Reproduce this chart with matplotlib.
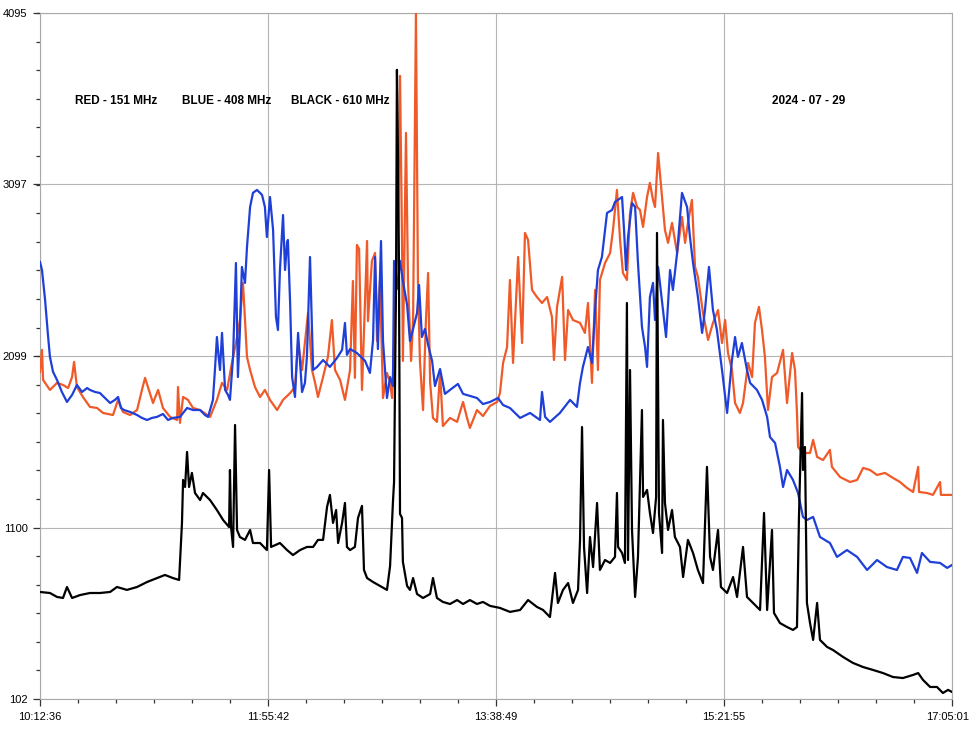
import numpy as np
import matplotlib
matplotlib.use('Agg')
import matplotlib.pyplot as plt
import matplotlib.transforms as mtransforms
from matplotlib.ticker import AutoMinorLocator

# minutes after 10:12:36, receiver counts
red = [(0,2006),(0.9,2134),(1.4,1959),(4.5,1901),(7.7,1942),(10.4,1930),(12.7,1912),(14.5,1976),(15.4,2064),
       (16.7,1918),(19.4,1860),(22.6,1802),(25.8,1796),(28.5,1767),(33.0,1755),(35.3,1843),(37.5,1773),(40.7,1755),
       (43.9,1784),(46.1,1901),(47.5,1971),(49.7,1883),(51.1,1825),(53.4,1901),(55.6,1796),(58.8,1744),(62.0,1726),
       (62.4,1918),(63.3,1709),(64.7,1860),(66.9,1843),(69.2,1796),(72.4,1784),(76.9,1744),(80.0,1843),(82.3,1942),
       (84.6,1901),(86.8,2058),(89.1,2209),(90.4,2308),(91.8,2524),(92.7,2308),(93.6,2093),(95.0,2017),(97.2,1918),
       (99.5,1860),(101.7,1901),(104.0,1843),(107.2,1784),(109.9,1843),(113.1,1883),(115.3,1918),(116.7,2174),
       (118.5,2017),(119.8,2174),(121.2,2349),(123.0,2017),(124.4,1942),(125.7,1860),(128.0,1976),(130.2,2093),
       (132.0,2308),(133.4,2017),(135.7,1959),(137.9,1843),(140.2,2017),(141.5,2535),(142.4,1971),(143.3,2745),
       (144.3,2722),(145.6,1901),(147.0,2419),(147.9,2768),(148.3,2302),(150.1,2652),(151.5,2698),(152.4,2186),
       (153.7,2535),(154.7,2070),(155.1,1854),(156.9,2000),(158.3,1947),(159.2,1854),(160.5,2302),(161.9,2861),
       (162.8,3729),(163.7,2768),(164.1,2070),(165.5,3397),(166.4,2535),(167.8,2070),(168.7,2302),(170.0,4095),
       (170.9,2535),(171.8,2070),(173.2,1784),(174.5,2302),(175.5,2582),(176.4,1947),(177.7,1738),(179.5,1715),
       (180.9,2000),(182.2,1691),(185.4,1738),(188.6,1715),(191.3,1831),(193.1,1738),(194.4,1680),(197.6,1784),
       (200.3,1749),(203.5,1808),(206.7,1831),(208.0,1883),(209.4,2058),(211.2,2151),(212.5,2541),(213.9,2058),
       (215.7,2541),(216.2,2675),(218.0,2174),(219.3,2815),(220.7,2774),(222.5,2483),(224.7,2442),(227.0,2407),
       (229.3,2442),(231.5,2326),(232.4,2075),(233.8,2384),(236.1,2559),(237.4,2075),(238.8,2366),(241.0,2308),
       (244.2,2291),(246.4,2233),(247.8,2407),(249.6,1942),(251.0,2483),(252.3,2017),(253.2,2541),(255.5,2640),
       (257.8,2698),(259.1,2832),(260.9,3065),(262.3,2774),(263.6,2582),(265.4,2541),(266.8,2931),(268.2,3048),
       (270.0,2966),(271.3,2949),(272.7,2850),(274.5,3024),(275.8,3106),(277.2,3007),(278.1,2966),(279.5,3280),
       (281.3,3024),(282.6,2832),(284.0,2757),(285.8,2873),(288.1,2698),(290.3,2908),(291.7,2757),(293.0,2873),
       (294.8,3007),(296.2,2617),(297.5,2559),(299.8,2349),(302.1,2192),(304.3,2291),(306.6,2366),(308.4,2174),
       (309.8,2308),(311.1,2116),(312.9,2017),(314.3,1825),(316.5,1767),(317.9,1825),(320.2,2058),(322.0,1976),
       (323.3,2291),(325.1,2384),(326.5,2250),(327.8,2093),(329.2,1784),(331.0,1976),(333.3,2000),(336.0,2134),
       (337.8,1825),(340.1,2116),(341.4,2017),(342.3,1767),(342.8,1569),(345.0,1534),(348.2,1534),(349.6,1610),
       (351.4,1511),(354.1,1493),(357.2,1552),(358.1,1453),(361.8,1394),(366.3,1365),(369.5,1377),(372.2,1447),
       (375.3,1435),(378.5,1406),(382.1,1418),(385.7,1389),(388.9,1365),(392.1,1330),(394.8,1307),(397.1,1453),
       (397.5,1307),(401.1,1301),(403.8,1290),(407.0,1365),(407.4,1290),(412.4,1290)]

blue = [(0,2646),(0.9,2599),(2.3,2425),(3.6,2221),(4.5,2093),(5.9,2006),(7.7,1959),(9.9,1889),(12.2,1831),
        (14.5,1872),(16.7,1930),(19.0,1889),(21.3,1912),(22.6,1901),(24.9,1889),(27.1,1883),(29.4,1854),(31.7,1825),
        (33.9,1843),(35.3,1860),(36.6,1796),(38.0,1784),(40.7,1773),(43.9,1755),(46.1,1738),(48.4,1726),(50.6,1738),
        (52.9,1744),(55.6,1761),(57.9,1726),(60.1,1738),(63.3,1744),(66.5,1796),(69.2,1784),(72.4,1784),(74.6,1755),
        (76.0,1744),(78.2,1843),(79.1,2017),(80.0,2209),(80.9,2075),(81.4,2017),(82.3,2233),(83.7,1901),(85.0,1872),
        (85.9,1843),(87.3,2093),(88.6,2640),(89.5,1976),(90.4,2250),(91.3,2617),(92.7,2524),(93.6,2733),(95.0,2966),
        (96.3,3048),(98.1,3065),(99.5,3048),(100.4,3036),(101.7,2966),(102.6,2791),(104.0,3024),(105.4,2832),
        (106.7,2326),(107.6,2250),(108.5,2599),(109.9,2919),(110.8,2599),(111.7,2757),(112.1,2774),(113.1,2407),
        (114.0,1976),(115.3,1860),(116.7,2233),(118.5,1889),(119.8,1942),(120.7,2093),(122.1,2675),(123.5,2017),
        (125.3,2035),(128.0,2075),(131.1,2035),(134.3,2087),(136.6,2134),(137.9,2291),(138.8,2105),(140.2,2139),
        (143.3,2116),(147.0,2070),(149.2,2000),(150.6,2192),(151.5,2675),(152.8,2139),(154.2,2768),(155.1,2186),
        (156.9,1854),(158.3,1976),(159.6,1924),(160.1,2652),(161.4,2489),(162.8,2652),(164.1,2535),(166.0,2396),
        (167.3,2186),(168.7,2256),(170.5,2349),(171.4,2512),(172.7,2209),(174.1,2256),(175.5,2163),(177.3,2070),
        (178.6,1924),(180.9,2023),(183.1,1878),(185.4,1901),(189.0,1936),(191.3,1878),(194.4,1866),(197.6,1854),
        (200.3,1819),(203.5,1831),(207.1,1854),(209.4,1813),(212.5,1796),(217.1,1738),(221.6,1767),(226.1,1726),
        (227.0,1889),(228.4,1744),(230.6,1715),(235.1,1767),(239.7,1843),(242.8,1802),(244.2,1942),(245.5,2035),
        (247.8,2151),(249.6,2058),(251.0,2366),(252.3,2599),(254.1,2675),(256.4,2931),(258.7,2949),(260.0,2995),
        (263.2,3024),(264.1,2832),(265.0,2599),(265.9,2791),(267.7,2989),(269.1,2966),(270.4,2640),(272.2,2268),
        (273.6,2151),(274.5,2035),(275.8,2442),(277.2,2524),(278.1,2308),(279.5,2617),(281.7,2366),(283.1,2209),
        (284.9,2599),(286.2,2483),(288.1,2698),(290.3,3048),(292.6,2966),(293.9,2791),(295.3,2640),(297.5,2442),
        (299.4,2233),(300.7,2366),(302.5,2617),(304.3,2366),(306.1,2250),(308.4,2017),(310.7,1767),(312.9,2075),
        (314.3,2209),(315.6,2093),(317.4,2174),(319.7,2017),(321.1,1942),(324.2,1901),(326.5,1843),(328.8,1744),
        (330.1,1627),(332.4,1592),(334.6,1453),(336.0,1336),(337.8,1435),(340.5,1377),(342.8,1301),(345.0,1162),
        (346.8,1144),(349.6,1162),(352.7,1045),(357.2,1010),(360.4,929),(364.9,969),(369.5,929),(374.0,853),
        (378.5,911),(383.0,870),(387.5,853),(390.2,929),(393.4,923),(396.6,836),(398.8,952),(402.5,900),
        (407.0,894),(410.2,865),(412.4,882)]

black = [(0,725),(4.5,719),(7.7,696),(10.4,690),(12.2,754),(14.5,690),(18.1,707),(22.6,719),(27.1,719),(31.7,725),
         (34.8,754),(39.3,737),(43.9,754),(48.4,783),(52.9,806),(56.5,824),(60.1,806),(62.9,795),(64.2,1127),
         (64.7,1377),(65.6,1336),(66.5,1540),(67.4,1336),(68.7,1418),(70.1,1301),(72.4,1260),(73.7,1301),(76.9,1260),
         (80.0,1202),(82.8,1144),(85.5,1103),(85.9,1435),(86.4,1103),(87.3,987),(88.2,1697),(89.1,1086),(90.4,1045),
         (92.7,1028),(95.0,1086),(96.3,1010),(99.5,1010),(102.6,969),(103.6,1435),(104.5,987),(108.5,1010),
         (111.7,969),(114.4,940),(117.6,969),(120.7,987),(123.5,987),(125.7,1028),(128.0,1028),(129.8,1220),
         (131.1,1290),(132.5,1127),(133.9,1202),(134.8,1010),(136.6,1127),(137.9,1243),(138.8,987),(140.2,969),
         (142.4,987),(143.8,1156),(145.6,1226),(146.5,853),(147.9,806),(150.6,783),(153.7,760),(156.9,737),
         (158.3,876),(159.6,1249),(160.1,1365),(161.0,2535),(161.4,3764),(161.9,3234),(162.3,2652),(162.8,1179),
         (163.7,1156),(164.1,900),(166.0,760),(167.3,737),(168.7,806),(170.5,713),(173.2,690),(176.4,713),
         (177.7,806),(179.5,690),(182.2,667),(185.4,655),(188.6,678),(191.3,655),(194.4,678),(197.6,655),
         (200.3,667),(203.5,644),(208.0,632),(212.5,609),(217.1,620),(220.7,678),(224.7,638),(227.5,620),
         (230.6,579),(232.9,836),(234.2,661),(236.5,737),(238.8,777),(241.0,661),(243.3,737),(244.2,1028),
         (245.1,1685),(246.0,987),(247.4,719),(248.7,1045),(250.1,870),(251.9,1243),(253.2,853),(255.5,911),
         (257.8,894),(260.0,929),(260.9,1301),(261.4,987),(263.2,952),(264.5,894),(265.4,2407),(265.9,911),
         (266.8,2017),(267.7,1086),(269.1,696),(270.4,929),(272.2,1784),(272.7,1278),(274.5,1319),(275.8,1185),
         (277.2,1068),(278.6,1278),(279.0,2815),(279.9,1185),(281.3,952),(281.7,1726),(282.6,1243),(284.0,1086),
         (285.8,1202),(287.1,1045),(289.4,987),(290.8,812),(293.0,1028),(295.3,952),(297.5,853),(299.8,777),
         (301.6,1453),(303.0,929),(304.3,853),(306.6,1086),(307.9,754),(310.7,719),(313.4,812),(315.2,696),
         (317.9,987),(319.7,696),(322.4,661),(325.6,620),(327.4,1185),(328.8,620),(331.0,1086),(331.9,603),
         (334.6,544),(337.8,521),(340.5,504),(342.3,521),(343.2,1162),(344.6,1883),(345.0,1435),(345.9,1569),
         (346.8,661),(348.2,544),(349.6,446),(351.4,661),(352.7,446),(355.9,405),(358.6,387),(363.1,347),
         (367.6,312),(372.2,288),(376.7,271),(381.2,253),(385.7,230),(390.2,224),(394.8,242),(397.1,253),
         (399.3,213),(402.5,172),(405.6,172),(408.3,137),(410.6,155),(412.4,143)]

x_ticks = [0, 103.1, 206.2, 309.3, 412.4]
x_labels = ['10:12:36', '11:55:42', '13:38:49', '15:21:55', '17:05:01']
y_ticks = [102, 1100, 2099, 3097, 4095]

plt.rcParams['font.family'] = ['Liberation Sans', 'DejaVu Sans']

fig = plt.figure(figsize=(9.71, 7.29), dpi=100)
ax = fig.add_axes([40/971, 30/729, 912/971, 686/729])

r = np.array(red)
b = np.array(blue)
k = np.array(black)
ax.plot(r[:, 0], r[:, 1], color='#f05a28', lw=1.6, zorder=3)
ax.plot(b[:, 0], b[:, 1], color='#1f40d8', lw=1.6, zorder=4)
ax.plot(k[:, 0], k[:, 1], color='#000000', lw=1.6, zorder=5)

ax.set_xlim(0, 412.4)
ax.set_ylim(102, 4095)
ax.set_xticks(x_ticks)
ax.set_xticklabels(x_labels)
ax.set_yticks(y_ticks)
ax.set_yticklabels([str(v) for v in y_ticks])
ax.xaxis.set_minor_locator(AutoMinorLocator(6))
ax.yaxis.set_minor_locator(AutoMinorLocator(6))
ax.tick_params(which='major', length=5, width=0.9, color='#333333', labelsize=8, pad=4)
ax.tick_params(which='minor', length=3, width=0.9, color='#333333')
ax.grid(True, which='major', color='#b5b5b5', lw=0.8)
for s in ax.spines.values():
    s.set_color('#a8a8a8')
    s.set_linewidth(0.8)

# keep the last time label inside the picture
last = ax.get_xticklabels()[-1]
last.set_transform(last.get_transform() + mtransforms.ScaledTranslation(-3/72, 0, fig.dpi_scale_trans))

ax.text(0.038, 0.872, 'RED - 151 MHz', transform=ax.transAxes, fontsize=8.5, fontweight='bold', va='center')
ax.text(0.156, 0.872, 'BLUE - 408 MHz', transform=ax.transAxes, fontsize=8.5, fontweight='bold', va='center')
ax.text(0.275, 0.872, 'BLACK - 610 MHz', transform=ax.transAxes, fontsize=8.5, fontweight='bold', va='center')
ax.text(0.803, 0.872, '2024 - 07 - 29', transform=ax.transAxes, fontsize=8.5, fontweight='bold', va='center')

plt.savefig('out.png', dpi=100)
